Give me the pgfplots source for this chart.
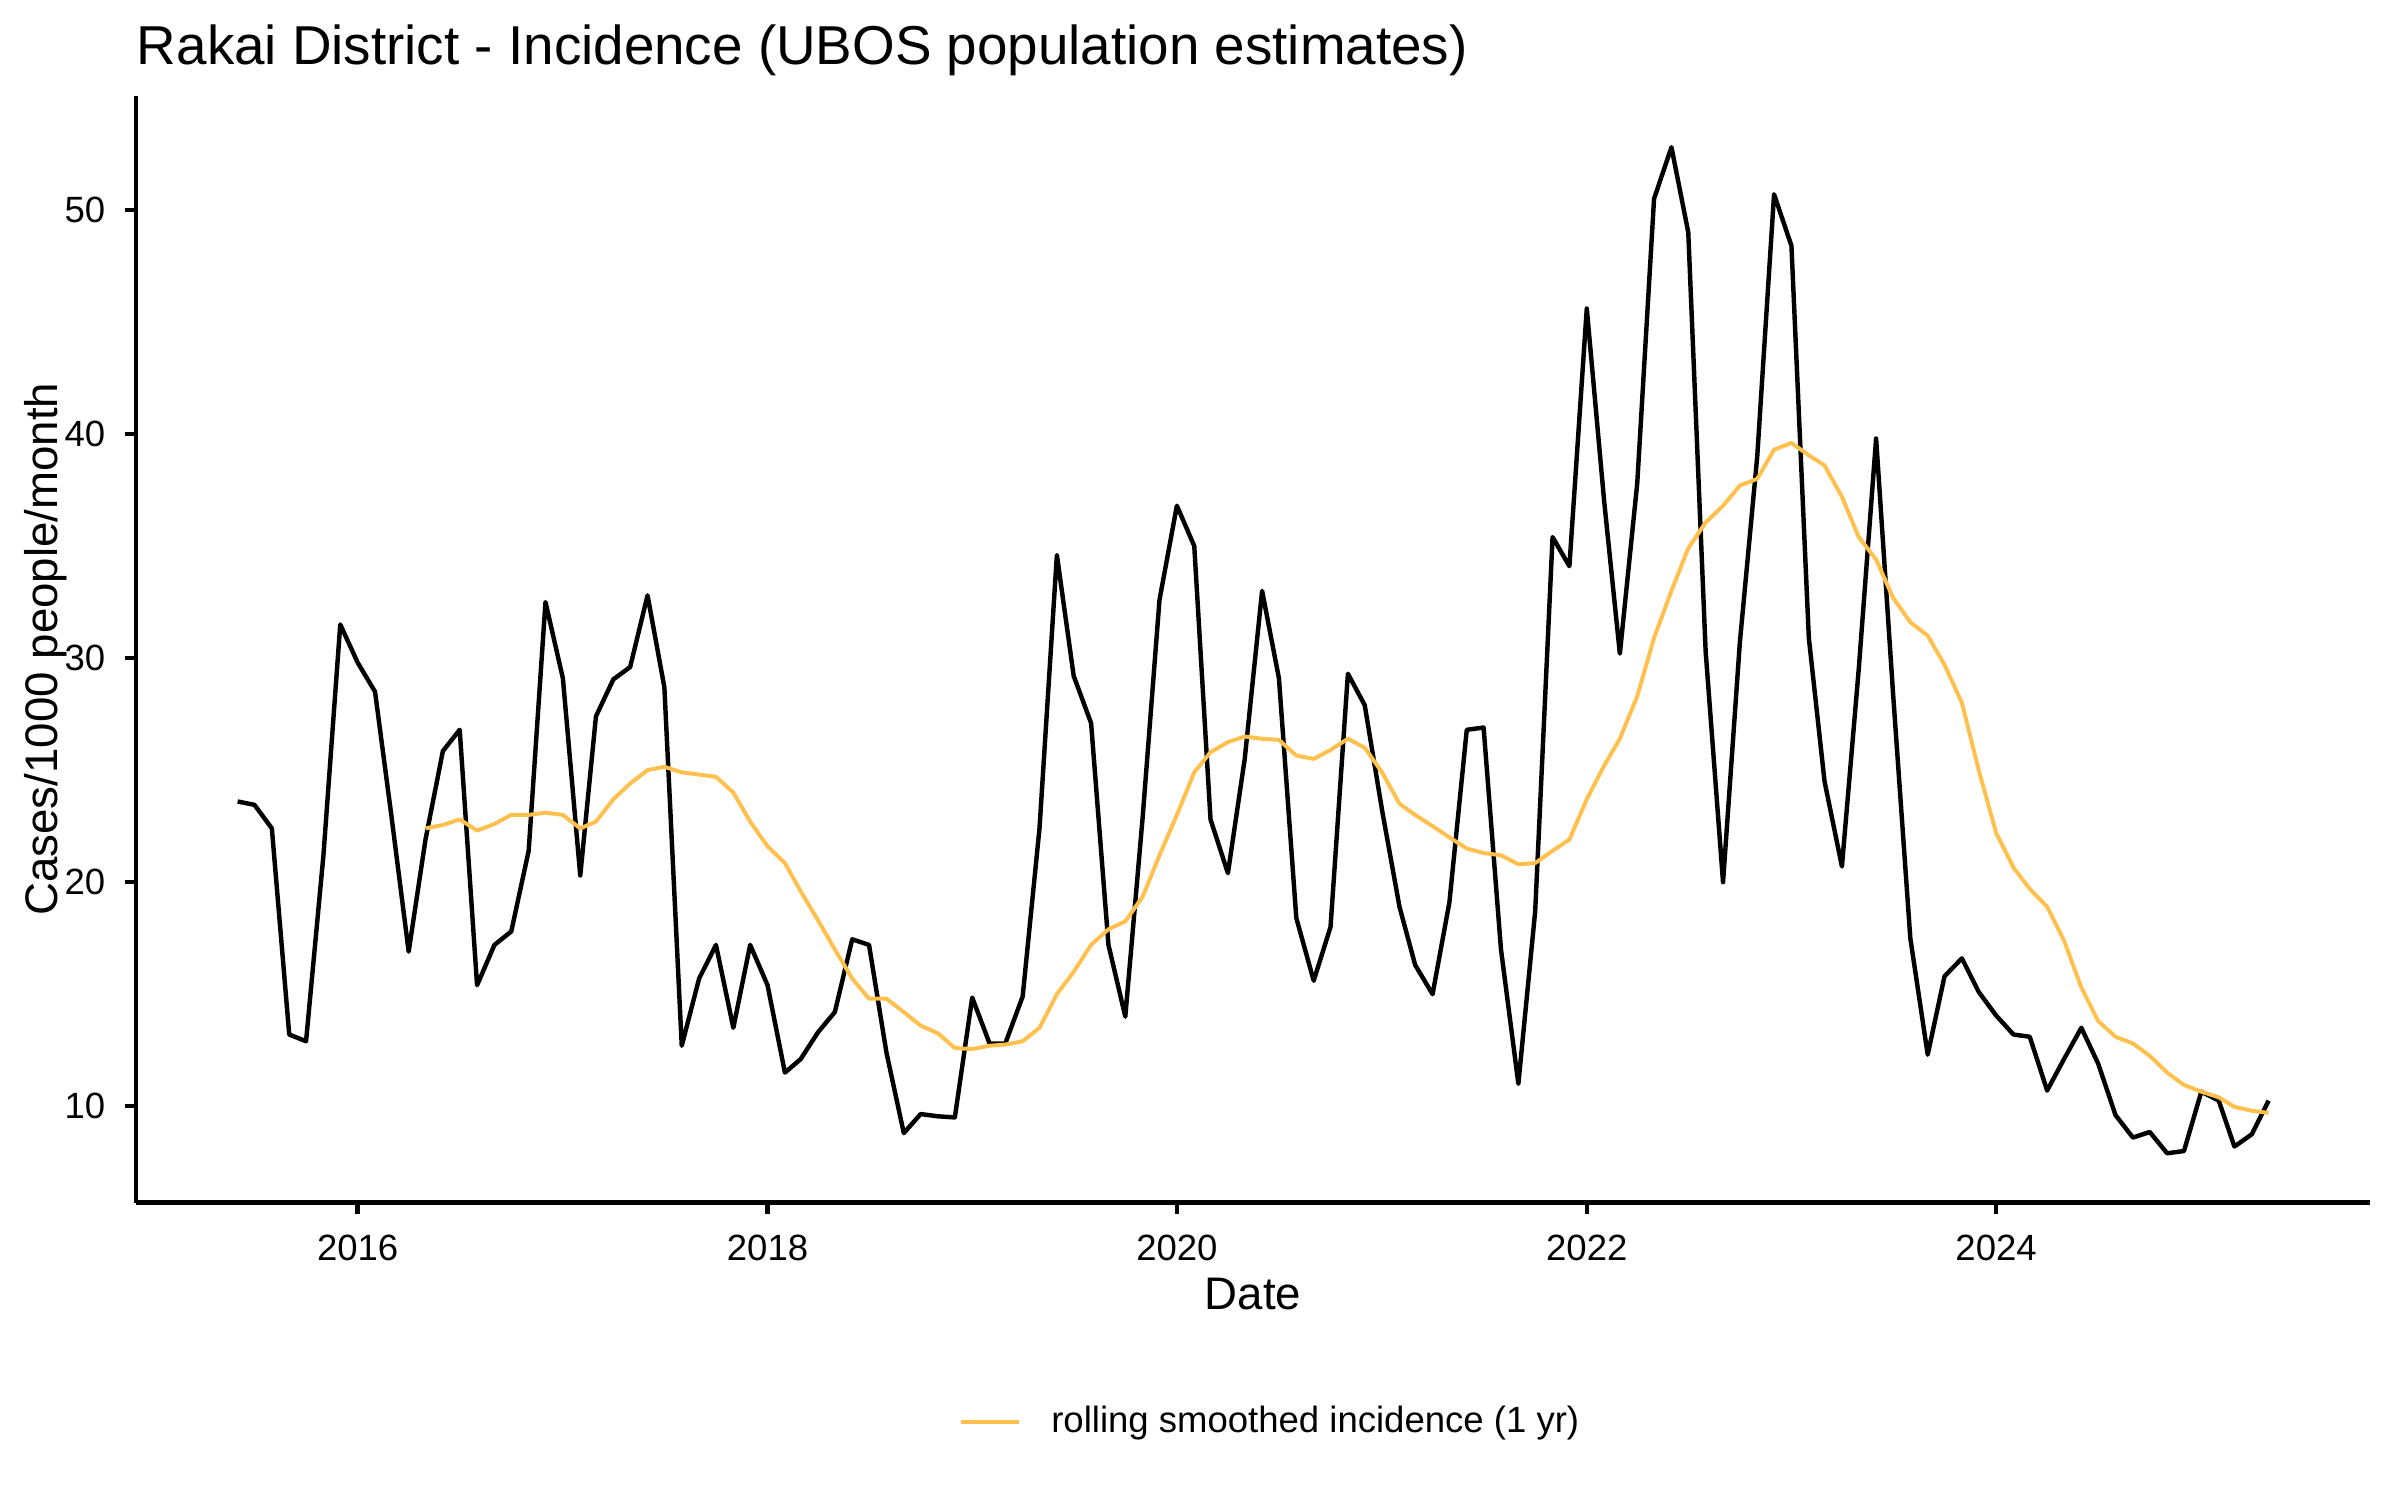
\documentclass[border=0pt]{standalone}
\usepackage{pgfplots}
\pgfplotsset{compat=1.18}
\usepackage{pgfplotstable}
\usepgfplotslibrary{dateplot}
\usepackage{fontspec}
\setmainfont{Liberation Sans}

\definecolor{smoothorange}{RGB}{255,192,77}

% monthly incidence, cases/1000 people/month
\pgfplotstableread{
date        inc
2015-06-01  23.6
2015-07-01  23.45
2015-08-01  22.4
2015-09-01  13.2
2015-10-01  12.9
2015-11-01  21.2
2015-12-01  31.5
2016-01-01  29.8
2016-02-01  28.5
2016-03-01  23.0
2016-04-01  16.9
2016-05-01  21.9
2016-06-01  25.85
2016-07-01  26.8
2016-08-01  15.4
2016-09-01  17.2
2016-10-01  17.8
2016-11-01  21.4
2016-12-01  32.5
2017-01-01  29.1
2017-02-01  20.3
2017-03-01  27.4
2017-04-01  29.05
2017-05-01  29.6
2017-06-01  32.8
2017-07-01  28.7
2017-08-01  12.7
2017-09-01  15.7
2017-10-01  17.2
2017-11-01  13.5
2017-12-01  17.2
2018-01-01  15.4
2018-02-01  11.5
2018-03-01  12.1
2018-04-01  13.3
2018-05-01  14.2
2018-06-01  17.45
2018-07-01  17.2
2018-08-01  12.4
2018-09-01  8.8
2018-10-01  9.65
2018-11-01  9.55
2018-12-01  9.5
2019-01-01  14.85
2019-02-01  12.8
2019-03-01  12.8
2019-04-01  14.9
2019-05-01  22.4
2019-06-01  34.6
2019-07-01  29.2
2019-08-01  27.1
2019-09-01  17.2
2019-10-01  14.0
2019-11-01  22.9
2019-12-01  32.6
2020-01-01  36.8
2020-02-01  35.0
2020-03-01  22.8
2020-04-01  20.4
2020-05-01  25.5
2020-06-01  33.0
2020-07-01  29.1
2020-08-01  18.4
2020-09-01  15.6
2020-10-01  18.0
2020-11-01  29.3
2020-12-01  27.9
2021-01-01  23.2
2021-02-01  18.9
2021-03-01  16.3
2021-04-01  15.0
2021-05-01  19.1
2021-06-01  26.8
2021-07-01  26.9
2021-08-01  17.0
2021-09-01  11.0
2021-10-01  18.7
2021-11-01  35.4
2021-12-01  34.1
2022-01-01  45.6
2022-02-01  37.0
2022-03-01  30.2
2022-04-01  37.8
2022-05-01  50.5
2022-06-01  52.8
2022-07-01  49.0
2022-08-01  30.3
2022-09-01  20.0
2022-10-01  30.7
2022-11-01  39.0
2022-12-01  50.7
2023-01-01  48.4
2023-02-01  30.9
2023-03-01  24.5
2023-04-01  20.7
2023-05-01  29.5
2023-06-01  39.8
2023-07-01  28.5
2023-08-01  17.5
2023-09-01  12.3
2023-10-01  15.8
2023-11-01  16.6
2023-12-01  15.1
2024-01-01  14.05
2024-02-01  13.2
2024-03-01  13.1
2024-04-01  10.7
2024-05-01  12.1
2024-06-01  13.5
2024-07-01  11.9
2024-08-01  9.6
2024-09-01  8.6
2024-10-01  8.85
2024-11-01  7.9
2024-12-01  8.0
2025-01-01  10.65
2025-02-01  10.25
2025-03-01  8.2
2025-04-01  8.75
2025-05-01  10.25
}\incidence

% rolling smoothed incidence (1 yr)
\pgfplotstableread{
date        roll
2016-05-01  22.4
2016-06-01  22.55
2016-07-01  22.8
2016-08-01  22.3
2016-09-01  22.6
2016-10-01  23.0
2016-11-01  23.0
2016-12-01  23.1
2017-01-01  23.0
2017-02-01  22.4
2017-03-01  22.7
2017-04-01  23.7
2017-05-01  24.4
2017-06-01  25.0
2017-07-01  25.15
2017-08-01  24.9
2017-09-01  24.8
2017-10-01  24.7
2017-11-01  24.0
2017-12-01  22.7
2018-01-01  21.6
2018-02-01  20.85
2018-03-01  19.6
2018-04-01  18.3
2018-05-01  17.0
2018-06-01  15.7
2018-07-01  14.8
2018-08-01  14.8
2018-09-01  14.2
2018-10-01  13.6
2018-11-01  13.25
2018-12-01  12.6
2019-01-01  12.55
2019-02-01  12.7
2019-03-01  12.75
2019-04-01  12.9
2019-05-01  13.5
2019-06-01  15.0
2019-07-01  16.0
2019-08-01  17.2
2019-09-01  17.9
2019-10-01  18.25
2019-11-01  19.35
2019-12-01  21.2
2020-01-01  23.0
2020-02-01  24.9
2020-03-01  25.8
2020-04-01  26.25
2020-05-01  26.5
2020-06-01  26.4
2020-07-01  26.35
2020-08-01  25.65
2020-09-01  25.5
2020-10-01  25.9
2020-11-01  26.4
2020-12-01  26.0
2021-01-01  24.9
2021-02-01  23.5
2021-03-01  23.0
2021-04-01  22.5
2021-05-01  22.0
2021-06-01  21.5
2021-07-01  21.3
2021-08-01  21.2
2021-09-01  20.8
2021-10-01  20.85
2021-11-01  21.4
2021-12-01  21.9
2022-01-01  23.7
2022-02-01  25.2
2022-03-01  26.4
2022-04-01  28.3
2022-05-01  30.9
2022-06-01  33.0
2022-07-01  34.9
2022-08-01  36.05
2022-09-01  36.8
2022-10-01  37.7
2022-11-01  38.0
2022-12-01  39.3
2023-01-01  39.6
2023-02-01  39.05
2023-03-01  38.6
2023-04-01  37.2
2023-05-01  35.4
2023-06-01  34.4
2023-07-01  32.7
2023-08-01  31.6
2023-09-01  31.0
2023-10-01  29.7
2023-11-01  28.0
2023-12-01  25.0
2024-01-01  22.2
2024-02-01  20.65
2024-03-01  19.7
2024-04-01  18.9
2024-05-01  17.4
2024-06-01  15.3
2024-07-01  13.8
2024-08-01  13.1
2024-09-01  12.8
2024-10-01  12.25
2024-11-01  11.5
2024-12-01  10.95
2025-01-01  10.65
2025-02-01  10.4
2025-03-01  9.97
2025-04-01  9.8
2025-05-01  9.7
}\rolling

\begin{document}
\begin{tikzpicture}
\useasboundingbox (0,0) rectangle (578.16pt,361.35pt);
\begin{axis}[
  at={(32.8pt,71.65pt)}, anchor=south west,
  scale only axis,
  width=538.16pt, height=266.65pt,
  date coordinates in=x, date ZERO=2015-01-01,
  xmin=2014-12-02, xmax=2025-10-29,
  ymin=5.7, ymax=55.1,
  axis lines=left,
  axis line style={-, black, line width=1.07pt},
  tick align=outside,
  major tick length=2.75pt,
  tick style={black, line width=1.07pt},
  xtick={2016-01-01,2018-01-01,2020-01-01,2022-01-01,2024-01-01},
  xticklabel=\year,
  ytick={10,20,30,40,50},
  minor tick num=0,
  /pgf/number format/assume math mode=true,
  xticklabel style={font=\fontsize{8.8}{10}\selectfont, anchor=base, inner sep=0pt, yshift=-11.25pt},
  yticklabel style={font=\fontsize{8.8}{10}\selectfont, anchor=east, inner sep=0pt, xshift=-4.5pt},
  xlabel={Date},
  every axis x label/.style={at={(axis description cs:0.5,0)}, anchor=base, inner sep=0pt, yshift=-25.65pt, font=\fontsize{11}{13}\selectfont},
  ylabel={Cases/1000 people/month},
  every axis y label/.style={at={(axis description cs:-0.0351,0.5)}, anchor=base, rotate=90, inner sep=0pt, font=\fontsize{11}{13}\selectfont},
  title={Rakai District - Incidence (UBOS population estimates)},
  every axis title/.style={at={(axis description cs:0,1)}, anchor=base west, inner sep=0pt, yshift=7.45pt, font=\fontsize{13.2}{15}\selectfont},
  legend style={at={(axis description cs:0.3685,-0.1983)}, anchor=west, draw=none, fill=none,
    inner sep=0pt, outer sep=0pt, column sep=5.3pt, cells={anchor=west, inner sep=0pt},
    font=\fontsize{8.8}{10}\selectfont},
  legend image code/.code={\draw[#1] (0pt,0pt) -- (13.9pt,0pt);},
  line join=round,
]
\addplot[black, line width=1.07pt, forget plot] table[x=date, y=inc] {\incidence};
\addplot[smoothorange, line width=0.95pt] table[x=date, y=roll] {\rolling};
\addlegendentry{rolling smoothed incidence (1 yr)}
\end{axis}
\end{tikzpicture}
\end{document}
